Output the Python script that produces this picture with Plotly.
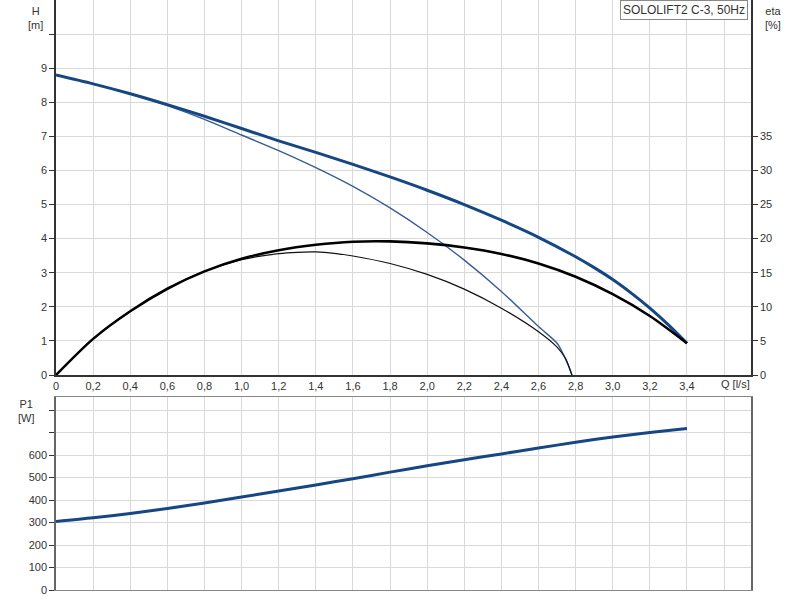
import plotly.graph_objects as go

# ---- data ----
q_main = [0, 0.2, 0.4, 0.6, 0.8, 1.0, 1.2, 1.4, 1.6, 1.8, 2.0, 2.2, 2.4, 2.6, 2.8, 3.0, 3.2, 3.4]
eta_main = [0, 5.3, 9.35, 12.65, 15.2, 17.05, 18.3, 19.1, 19.55, 19.6, 19.3, 18.7, 17.75, 16.35, 14.4, 11.85, 8.65, 4.65]
p1_main = [305, 321, 340, 362, 387, 413, 440, 467, 495, 524, 552, 579, 605, 631, 657, 680, 700, 718]

q_h = [0, 0.2, 0.4, 0.6, 0.8, 1.0, 1.2, 1.4, 1.6, 1.8, 2.0, 2.2, 2.4, 2.6, 2.8, 2.9, 3.0, 3.1, 3.2, 3.3, 3.4]
h_main = [8.8, 8.54, 8.25, 7.93, 7.59, 7.23, 6.87, 6.53, 6.18, 5.81, 5.42, 5.0, 4.54, 4.04, 3.47, 3.15, 2.80, 2.40, 1.96, 1.47, 0.93]

q_thin_h = [0, 0.2, 0.4, 0.6, 0.8, 1.0, 1.2, 1.4, 1.6, 1.8, 2.0, 2.2, 2.4, 2.6, 2.7, 2.735, 2.76, 2.78]
h_thin = [8.8, 8.54, 8.25, 7.90, 7.50, 7.04, 6.58, 6.08, 5.53, 4.90, 4.18, 3.37, 2.45, 1.42, 0.93, 0.59, 0.29, 0.0]

q_thin_eta = [0, 0.2, 0.4, 0.6, 0.8, 1.0, 1.2, 1.3, 1.4, 1.5, 1.6, 1.8, 2.0, 2.2, 2.4, 2.6, 2.7, 2.745, 2.78]
eta_thin = [0, 5.3, 9.35, 12.65, 15.2, 16.9, 17.8, 18.0, 18.05, 17.85, 17.45, 16.35, 14.75, 12.6, 9.8, 6.35, 4.1, 2.45, 0.0]

q_ticks = [0, 0.2, 0.4, 0.6, 0.8, 1.0, 1.2, 1.4, 1.6, 1.8, 2.0, 2.2, 2.4, 2.6, 2.8, 3.0, 3.2, 3.4, 3.6]
q_labels = ["0", "0,2", "0,4", "0,6", "0,8", "1,0", "1,2", "1,4", "1,6", "1,8", "2,0",
            "2,2", "2,4", "2,6", "2,8", "3,0", "3,2", "3,4", ""]
h_ticks = [0, 1, 2, 3, 4, 5, 6, 7, 8, 9, 10]
h_labels = ["0", "1", "2", "3", "4", "5", "6", "7", "8", "9", ""]
eta_ticks = [0, 5, 10, 15, 20, 25, 30, 35]
p_ticks = [0, 100, 200, 300, 400, 500, 600, 700, 800]
p_labels = ["0", "100", "200", "300", "400", "500", "600", "", ""]

BLUE = "#164783"
BLUE_THIN = "#3a5d8f"
GRID = "#d9d9d9"
AX = "#333333"
FONT = "Liberation Sans, Arial, sans-serif"

fig = go.Figure()
fig.add_trace(go.Scatter(x=q_thin_h, y=h_thin, mode="lines", line=dict(color=BLUE_THIN, width=1.4, shape="spline", smoothing=0.8),
                         xaxis="x", yaxis="y", showlegend=False, hoverinfo="skip"))
fig.add_trace(go.Scatter(x=q_h, y=h_main, mode="lines", line=dict(color=BLUE, width=3, shape="spline", smoothing=0.8),
                         xaxis="x", yaxis="y", showlegend=False, hoverinfo="skip"))
fig.add_trace(go.Scatter(x=q_thin_eta, y=eta_thin, mode="lines", line=dict(color="#111111", width=1.2, shape="spline", smoothing=0.8),
                         xaxis="x", yaxis="y2", showlegend=False, hoverinfo="skip"))
fig.add_trace(go.Scatter(x=q_main, y=eta_main, mode="lines", line=dict(color="#000000", width=2.6, shape="spline", smoothing=0.8),
                         xaxis="x", yaxis="y2", showlegend=False, hoverinfo="skip"))
fig.add_trace(go.Scatter(x=q_main, y=p1_main, mode="lines", line=dict(color=BLUE, width=3, shape="spline", smoothing=0.8),
                         xaxis="x2", yaxis="y3", showlegend=False, hoverinfo="skip"))

xr = [0, 3.745]
fig.update_layout(
    width=800, height=600,
    margin=dict(l=56, r=49, t=0, b=10, autoexpand=False),
    paper_bgcolor="white", plot_bgcolor="white",
    font=dict(family=FONT, size=11, color=AX),
    xaxis=dict(domain=[0, 1], range=xr, anchor="y", tickvals=q_ticks, ticktext=q_labels,
               showgrid=True, gridcolor=GRID, gridwidth=1, zeroline=False,
               showline=True, linecolor=AX, linewidth=2, ticks="", tickfont=dict(size=11)),
    yaxis=dict(domain=[0.3644, 1], range=[0, 11], anchor="x", tickvals=h_ticks, ticktext=h_labels,
               showgrid=True, gridcolor=GRID, gridwidth=1, zeroline=False,
               showline=True, linecolor=AX, linewidth=1.5, ticks="outside", ticklen=5, tickcolor=AX),
    yaxis2=dict(range=[0, 55], overlaying="y", side="right", anchor="x", tickvals=eta_ticks,
                showgrid=False, zeroline=False, showline=True, linecolor=AX, linewidth=1.5,
                ticks="outside", ticklen=5, tickcolor=AX),
    xaxis2=dict(domain=[0, 1], range=xr, anchor="y3", tickvals=q_ticks, showticklabels=False,
                showgrid=True, gridcolor=GRID, gridwidth=1, zeroline=False,
                showline=True, mirror=True, linecolor="#888888", linewidth=1.2, ticks=""),
    yaxis3=dict(domain=[0, 0.3271], range=[0, 858], anchor="x2", tickvals=p_ticks, ticktext=p_labels,
                showgrid=True, gridcolor=GRID, gridwidth=1, zeroline=False,
                showline=True, mirror=True, linecolor="#666666", linewidth=1.5,
                ticks="outside", ticklen=5, tickcolor=AX),
)

fig.add_annotation(text="H<br>[m]", xref="paper", yref="paper", x=-0.029, y=1.0, yshift=-3, xanchor="center", yanchor="top",
                   showarrow=False, font=dict(size=11, color=AX), align="center")
fig.add_annotation(text="eta<br>[%]", xref="paper", yref="paper", x=1.032, y=1.0, yshift=-3, xanchor="center", yanchor="top",
                   showarrow=False, font=dict(size=11, color=AX), align="center")
fig.add_annotation(text="P1<br>[W]", xref="paper", yref="paper", x=-0.042, y=0.329, xanchor="center", yanchor="top",
                   showarrow=False, font=dict(size=11, color=AX), align="center")
fig.add_annotation(text="Q [l/s]", xref="paper", yref="paper", x=0.977, y=0.349, xanchor="center", yanchor="middle",
                   showarrow=False, font=dict(size=11, color=AX))
fig.add_annotation(text="SOLOLIFT2 C-3, 50Hz", xref="paper", yref="paper", x=0.9955, y=1.0, xanchor="right", yanchor="top",
                   showarrow=False, font=dict(size=12, color=AX), bgcolor="white", bordercolor="#888888",
                   borderwidth=1, borderpad=2)

fig.write_html("out.html", config={"displayModeBar": False},
               post_script="document.body.style.margin='0';")
